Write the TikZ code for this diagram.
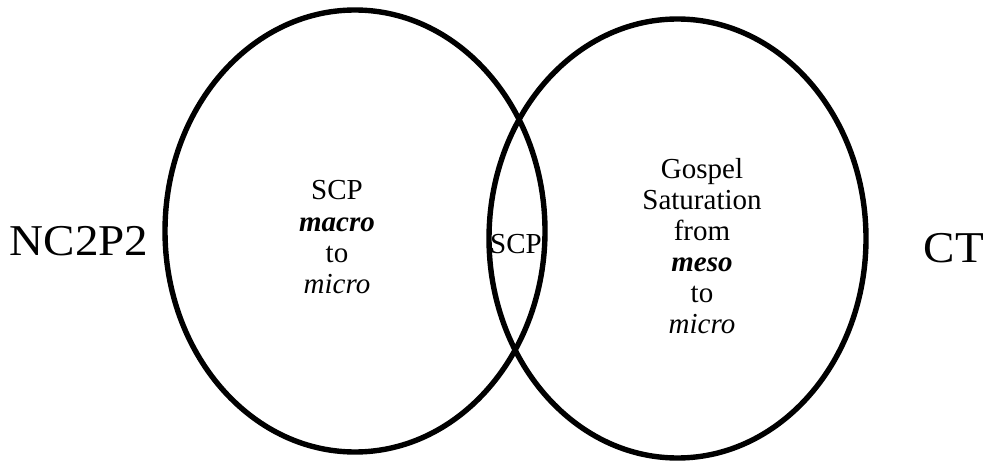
\documentclass[tikz,border=0pt]{standalone}
\usepackage{fontspec}
\setmainfont{Liberation Serif}
\begin{document}
\begin{tikzpicture}[x=1pt,y=-1pt,
  setring/.style={draw=black,line width=5.4pt},
  inner/.style={font=\fontsize{29}{31}\selectfont,align=center,inner sep=0pt},
  side/.style={font=\fontsize{44}{48}\selectfont,inner sep=0pt,xscale=1.07}]
\useasboundingbox (0,0) rectangle (992,462);
% the two overlapping sets
\draw[setring] (355,231) ellipse [x radius=190,y radius=221];
\draw[setring] (677.5,238.5) ellipse [x radius=188.5,y radius=219.5];
% labels outside the sets
\node[side,anchor=base] (nc) at (79,255) {NC2P2};
\node[side,anchor=base] (ct) at (954,262) {CT};
% labels inside the sets (base anchor sits on the last line)
\node[inner,anchor=base] (left) at (337,293) {SCP\\\textbf{\textit{macro}}\\to\\\textit{micro}};
\node[inner,anchor=base] (mid) at (516,253) {SCP};
\node[inner,anchor=base] (right) at (702,333) {Gospel\\Saturation\\from\\\textbf{\textit{meso}}\\to\\\textit{micro}};
\end{tikzpicture}
\end{document}
